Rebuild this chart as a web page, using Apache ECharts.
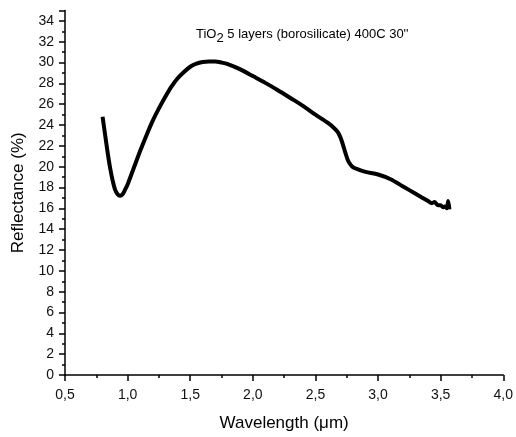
<!DOCTYPE html>
<html><head><meta charset="utf-8">
<script src="https://cdn.jsdelivr.net/npm/echarts@6/dist/echarts.min.js"></script>
<style>html,body{margin:0;padding:0;background:#fff}#c{width:516px;height:437px}</style>
</head><body><div id="c"></div>
<script>
const wavelength = [0.80,0.82,0.84,0.86,0.88,0.90,0.92,0.94,0.96,0.98,1.00,1.05,1.10,1.15,1.20,1.25,1.30,1.35,1.40,1.45,1.50,1.55,1.60,1.65,1.70,1.75,1.80,1.90,2.00,2.10,2.20,2.30,2.40,2.50,2.60,2.65,2.68,2.70,2.72,2.74,2.76,2.78,2.80,2.85,2.90,3.00,3.10,3.20,3.30,3.40,3.43,3.45,3.48,3.50,3.52,3.54,3.55,3.56,3.57];
const reflectance = [24.8,23.1,21.4,19.9,18.7,17.8,17.35,17.2,17.35,17.8,18.3,19.9,21.5,23.0,24.4,25.6,26.7,27.7,28.5,29.1,29.6,29.9,30.05,30.1,30.1,30.0,29.85,29.35,28.7,28.05,27.35,26.6,25.85,25.0,24.2,23.7,23.3,22.8,22.1,21.3,20.6,20.2,19.95,19.7,19.5,19.25,18.8,18.1,17.4,16.7,16.5,16.6,16.3,16.3,16.1,16.2,16.0,16.7,15.9];
const titleText = "TiO{sub|2} 5 layers (borosilicate) 400C 30''";
const xName = "Wavelength (\u03bcm)";
const yName = "Reflectance (%)";

const font = "'Liberation Sans', Arial, sans-serif";
const chart = echarts.init(document.getElementById('c'));
chart.setOption({
  animation: false,
  backgroundColor: '#fff',
  title: {
    text: titleText, left: 191, top: 18,
    textStyle: { fontFamily: font, fontSize: 13, fontWeight: 'normal', color: '#000',
      rich: { sub: { fontFamily: font, fontSize: 13, color: '#000', padding: [9,0,0,0] } } }
  },
  grid: { left: 65, right: 10, top: 10.5, bottom: 58.3 },
  xAxis: {
    type: 'value', min: 0.5, max: 4.0, interval: 0.5,
    name: xName, nameLocation: 'middle', nameGap: 40,
    nameTextStyle: { fontFamily: font, fontSize: 17, color: '#000' },
    axisLine: { lineStyle: { color: '#000', width: 1.5 } },
    axisTick: { length: 6, lineStyle: { color: '#000', width: 1.5 } },
    minorTick: { show: true, splitNumber: 2, length: 3, lineStyle: { color: '#000', width: 1.5 } },
    splitLine: { show: false },
    axisLabel: { fontFamily: font, fontSize: 14, color: '#111', margin: 13,
      formatter: v => v.toFixed(1).replace('.', ',') }
  },
  yAxis: {
    type: 'value', min: 0, max: 35, interval: 2,
    name: yName, nameLocation: 'middle', nameGap: 38,
    nameTextStyle: { fontFamily: font, fontSize: 17, color: '#000' },
    axisLine: { show: true, lineStyle: { color: '#000', width: 1.5 } },
    axisTick: { show: true, length: 6, lineStyle: { color: '#000', width: 1.5 } },
    minorTick: { show: true, splitNumber: 2, length: 3, lineStyle: { color: '#000', width: 1.5 } },
    splitLine: { show: false },
    axisLabel: { fontFamily: font, fontSize: 14, color: '#111', margin: 11 }
  },
  series: [{
    type: 'line', smooth: 0.3, showSymbol: false,
    data: wavelength.map((x, i) => [x, reflectance[i]]),
    lineStyle: { color: '#000', width: 4 }
  }]
});
</script></body></html>
